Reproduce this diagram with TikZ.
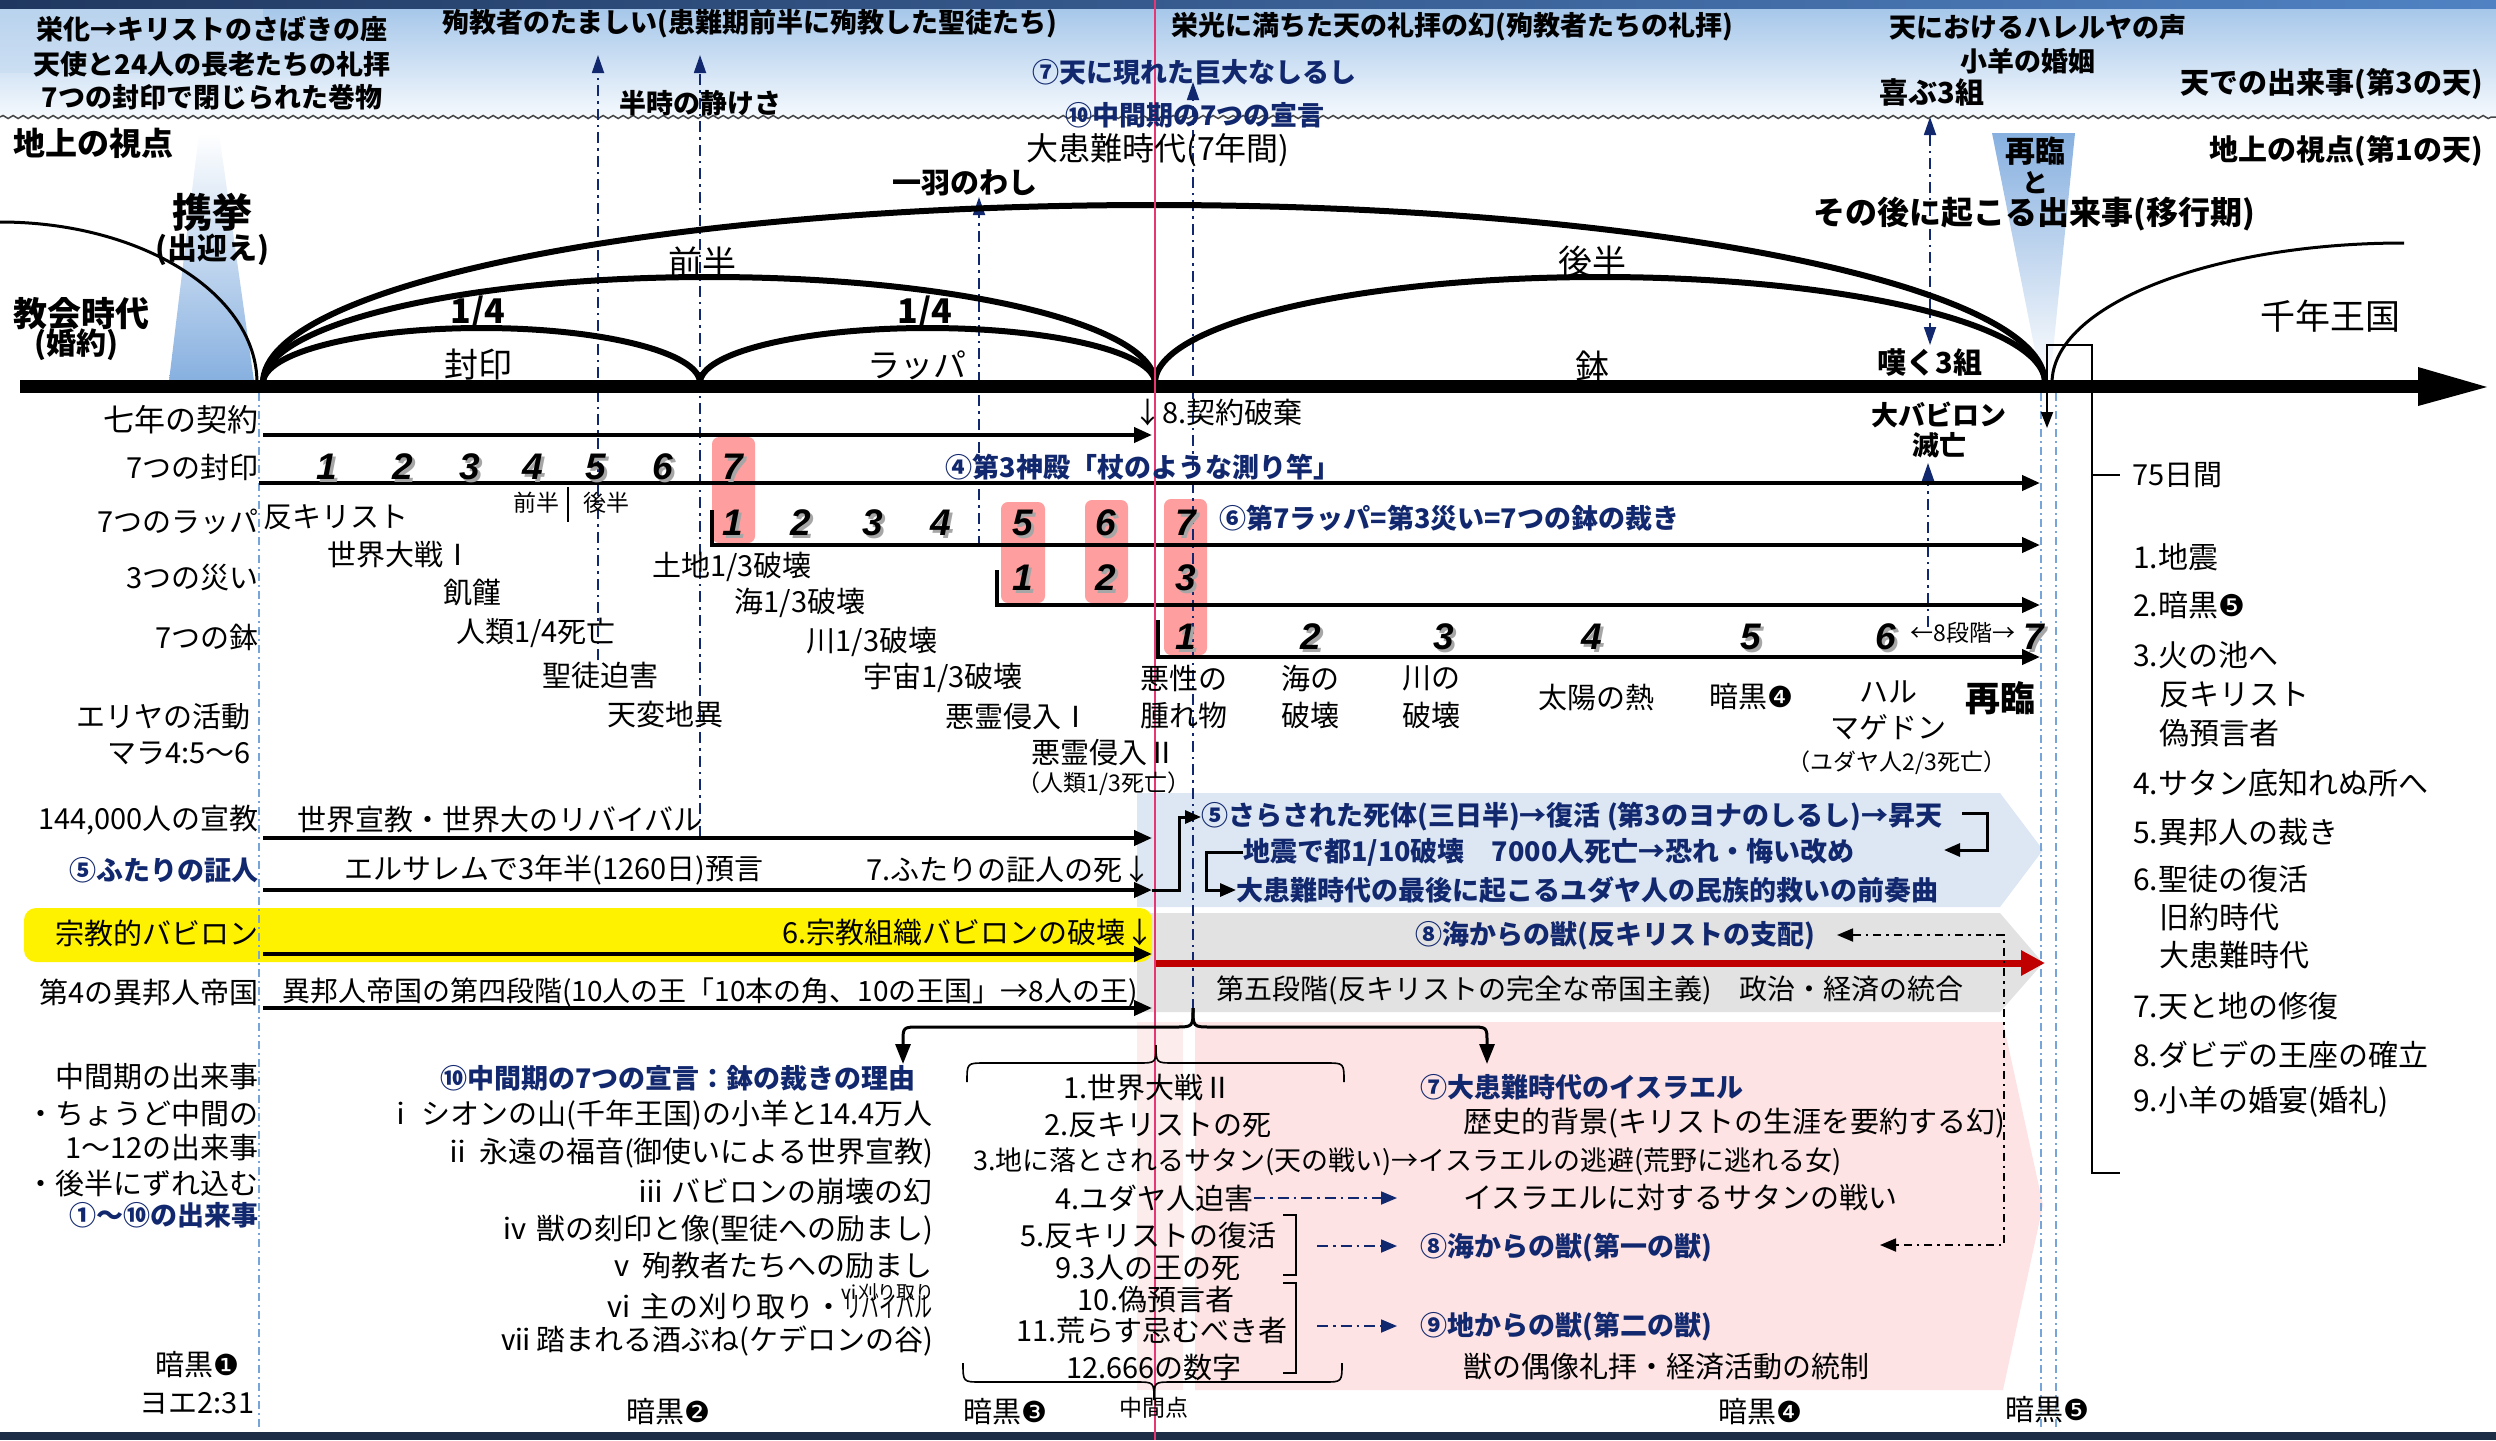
\documentclass[tikz,border=0pt]{standalone}
\usepackage{fontspec}
\setmainfont{Noto Sans CJK JP}
\newfontfamily\dejavu{DejaVu Sans}
\newfontfamily\numfont{Liberation Sans}
\usetikzlibrary{arrows.meta,decorations.pathmorphing}
\definecolor{navyT}{RGB}{18,40,110}
\definecolor{navyD}{RGB}{32,56,96}
\definecolor{navyL}{RGB}{80,130,195}
\definecolor{hdrTop}{RGB}{160,195,232}
\definecolor{hdrBot}{RGB}{246,250,254}
\definecolor{beamB}{RGB}{135,176,224}
\definecolor{pinkBox}{RGB}{255,158,158}
\definecolor{bandBlue}{RGB}{220,231,243}
\definecolor{bandGray}{RGB}{226,226,226}
\definecolor{bandPink}{RGB}{253,227,228}
\definecolor{bandPinkL}{RGB}{253,236,236}
\definecolor{redA}{RGB}{192,0,0}
\definecolor{midLine}{RGB}{228,55,115}
\definecolor{lightDash}{RGB}{120,165,215}
\definecolor{botBar}{RGB}{30,45,70}
\newcommand\dk[1]{{\dejavu #1}}
\newcommand\fs[1]{\fontsize{#1}{#1}\selectfont}
\newcommand\numat[4]{\node[numsh] (#1s) at (#2+2.5,#3+2.5) {#4};\node[numst] (#1) at (#2,#3) {#4};}
\tikzset{
  txt/.style={inner sep=0pt, font=\fontsize{29}{34}\selectfont},
  txs/.style={inner sep=0pt, font=\fontsize{23}{27}\selectfont},
  txb/.style={inner sep=0pt, font=\fontsize{27}{32}\selectfont\bfseries},
  txn/.style={txb, text=navyT},
  numst/.style={inner sep=0pt, font=\fontsize{37}{40}\selectfont\numfont\bfseries\itshape},
  numsh/.style={numst, text=black!35},
  rarr/.style={line width=4pt, -{Triangle[length=18pt,width=15pt]}},
  conn/.style={line width=3pt, -{Triangle[length=16pt,width=13pt]}},
  ddn/.style={navyT, line width=1.8pt, dash pattern=on 11pt off 5pt on 2.5pt off 5pt},
  ddk/.style={black, line width=1.8pt, dash pattern=on 8pt off 5pt on 2.5pt off 5pt},
  ddl/.style={lightDash, line width=1.2pt, dash pattern=on 8pt off 4pt on 2pt off 4pt},
  nhead/.style={-{Triangle[length=18pt,width=12pt]}},
  pbox/.style={fill=pinkBox, rounded corners=7pt, draw=none},
  archl/.style={line width=6pt},
  thinarch/.style={line width=3pt},
}
\begin{document}
\begin{tikzpicture}[x=1pt,y=-1pt]
\useasboundingbox (0,0) rectangle (2496,1440);
% ---------- backgrounds
\shade[top color=hdrTop, bottom color=hdrBot] (0,0) rectangle (2496,118);
\fill[hdrTop!60!white, opacity=0.6] (0,8) rectangle (263,73);
\shade[left color=navyD, right color=navyL] (0,0) rectangle (2496,8);
\fill[botBar] (0,1432) rectangle (2496,1440);
\draw[gray!55!black, line width=1.5pt, decorate, decoration={snake, amplitude=1.5pt, segment length=10pt}] (0,117) -- (2496,117);
\shade[top color=white, bottom color=beamB] (199,133) -- (219,133) -- (254,381) -- (169,381) -- cycle;
\shade[top color=beamB, bottom color=white] (1992,133) -- (2075,133) -- (2050,381) -- (2041,381) -- cycle;
\fill[bandBlue] (1137,793) -- (2000,793) -- (2043,850) -- (2000,907) -- (1137,907) -- cycle;
\fill[bandGray] (1137,913) -- (2000,913) -- (2043,963) -- (2000,1012) -- (1137,1012) -- cycle;
\fill[bandPink] (1195,1022) -- (2003,1022) -- (2043,1205) -- (2003,1390) -- (1195,1390) -- cycle;
\fill[bandPinkL] (1137,1022) rectangle (1183,1390);
\fill[yellow, rounded corners=12pt] (24,908) rectangle (1152,962);
\fill[pbox] (712,437) rectangle (755,543);
\fill[pbox] (1001,502) rectangle (1045,603);
\fill[pbox] (1085,500) rectangle (1128,603);
\fill[pbox] (1164,499) rectangle (1207,655);
% ---------- vertical guide lines
\draw[ddl] (259,393) -- (259,1430);
\draw[ddl] (2041,393) -- (2041,1430);
\draw[ddl] (2056,393) -- (2056,1430);
\draw[ddn, nhead] (598,660) -- (598,55);
\draw[ddn, nhead] (700,837) -- (700,55);
\draw[ddn, nhead] (979,547) -- (979,197);
\draw[ddn, nhead] (1193,1010) -- (1193,82);
\draw[ddn, {Triangle[length=18pt,width=12pt]}-{Triangle[length=18pt,width=12pt]}] (1930,117) -- (1930,345);
\draw[ddn, nhead] (1928,627) -- (1928,463);
% ---------- timeline and arches
\fill (20,380) rectangle (2425,393);
\fill (2418,367) -- (2487,387) -- (2418,406) -- cycle;
\draw[thinarch] (0,222) arc[start angle=90, end angle=0, x radius=257pt, y radius=161pt];
\draw[thinarch] (2052,383) arc[start angle=180, end angle=90, x radius=352pt, y radius=140pt];
\draw[archl] (263,383) arc[start angle=180, end angle=0, x radius=218.5pt, y radius=55pt];
\draw[archl] (700,383) arc[start angle=180, end angle=0, x radius=227.5pt, y radius=55pt];
\draw[archl] (263,383) arc[start angle=180, end angle=0, x radius=446pt, y radius=106pt];
\draw[archl] (1155,383) arc[start angle=180, end angle=0, x radius=445pt, y radius=106pt];
\draw[archl] (263,383) arc[start angle=180, end angle=0, x radius=891pt, y radius=178pt];
\draw[line width=2pt] (2047,345) rectangle (2092,383);
\draw[line width=2pt] (2092,383) -- (2092,1173) -- (2120,1173);
\draw[line width=1.5pt] (2092,475) -- (2120,475);
\draw[line width=2pt, -{Triangle[length=16pt,width=12pt]}] (2047,390) -- (2047,428);
% ---------- row arrows
\coordinate (c1a) at (263,435); \coordinate (c1b) at (1152,435);
\draw[rarr] (c1a) -- (c1b);
\coordinate (s0) at (259,483); \coordinate (s1) at (2040,483);
\draw[rarr] (s0) -- (s1);
\coordinate (t0) at (712,510); \coordinate (t1) at (2040,545);
\draw[rarr] (t0) |- (t1);
\coordinate (w0) at (997,570); \coordinate (w1) at (2040,605);
\draw[rarr] (w0) |- (w1);
\coordinate (b0) at (1158,620); \coordinate (b1e) at (2040,657);
\draw[rarr] (b0) |- (b1e);
\draw[line width=1.5pt] (568,487) -- (568,522);
\coordinate (m0) at (263,838); \coordinate (m1) at (1152,838);
\draw[rarr] (m0) -- (m1);
\coordinate (p0) at (263,890); \coordinate (p1) at (1152,890);
\draw[rarr] (p0) -- (p1);
\coordinate (y0) at (263,954); \coordinate (y1) at (1152,954);
\draw[rarr] (y0) -- (y1);
\coordinate (e0) at (263,1008); \coordinate (e1) at (1152,1008);
\draw[rarr] (e0) -- (e1);
\coordinate (r0) at (1155,963); \coordinate (r1) at (2045,963);
\draw[redA, line width=7pt, -{Triangle[length=24pt,width=24pt]}] (r0) -- (r1);
% ---------- middle magenta line
\draw[midLine, line width=2pt] (1155,0) -- (1155,1440);
% ---------- numbers
\numat{sa}{327}{467}{1}\numat{sb}{403}{467}{2}\numat{sc}{470}{467}{3}\numat{sd}{533}{467}{4}
\numat{se}{596}{467}{5}\numat{sf}{663}{467}{6}\numat{sg}{733}{467}{7}
\numat{ta}{733}{523}{1}\numat{tb}{801}{523}{2}\numat{tc}{873}{523}{3}\numat{td}{941}{523}{4}
\numat{te}{1023}{523}{5}\numat{tf}{1106}{523}{6}\numat{tg}{1186}{523}{7}
\numat{wa}{1023}{578}{1}\numat{wb}{1106}{578}{2}\numat{wc}{1186}{578}{3}
\numat{ba}{1186}{637}{1}\numat{bb}{1311}{637}{2}\numat{bc}{1444}{637}{3}\numat{bd}{1592}{637}{4}
\numat{be}{1751}{637}{5}\numat{bf}{1886}{637}{6}\numat{bg}{2034}{637}{7}
% ---------- header texts
\node[txb] (h1) at (212,29) {栄化→キリストのさばきの座};
\node[txb] (h2) at (212,64) {天使と24人の長老たちの礼拝};
\node[txb] (h3) at (212,97) {7つの封印で閉じられた巻物};
\node[txb] (h4) at (750,24) {殉教者のたましい(患難期前半に殉教した聖徒たち)};
\node[txb] (h5) at (700,103) {半時の静けさ};
\node[txb] (h6) at (1452,27) {栄光に満ちた天の礼拝の幻(殉教者たちの礼拝)};
\node[txb] (h7) at (2038,27) {天におけるハレルヤの声};
\node[txb] (h8) at (2028,61) {小羊の婚姻};
\node[txb, font=\fs{29}\bfseries] (h9) at (1932,92) {喜ぶ3組};
\node[txb, anchor=east, font=\fs{29}\bfseries] (h10) at (2483,84) {天での出来事(第3の天)};
\node[txn] (h11) at (1194,72) {⑦天に現れた巨大なしるし};
\node[txn] (h12) at (1195,115) {⑩中間期の7つの宣言};
% ---------- earth texts
\node[txb, anchor=west, font=\fs{32}\bfseries] (g1) at (13,143) {地上の視点};
\node[txb, anchor=east, font=\fs{29}\bfseries] (g2) at (2483,151) {地上の視点(第1の天)};
\node[txt, font=\fs{32}] (g3) at (1158,150) {大患難時代(7年間)};
\node[txb, font=\fs{29}\bfseries] (g4) at (965,183) {一羽のわし};
\node[txt, font=\fs{40}\bfseries] (g5) at (212,212) {携挙};
\node[txb, font=\fs{30}\bfseries] (g6) at (212,250) {(出迎え)};
\node[txb, anchor=west, font=\fs{34}\bfseries] (g7) at (13,314) {教会時代};
\node[txb, font=\fs{30}\bfseries] (g8) at (76,345) {(婚約)};
\node[txb, font=\fs{34}\bfseries] (g9) at (478,313) {1/4};
\node[txb, font=\fs{34}\bfseries] (g10) at (925,313) {1/4};
\node[txt, font=\fs{34}] (g11) at (478,365) {封印};
\node[txt, font=\fs{33}] (g12) at (917,365) {ラッパ};
\node[txt, font=\fs{34}] (g13) at (702,262) {前半};
\node[txt, font=\fs{34}] (g14) at (1592,262) {後半};
\node[txt, font=\fs{34}] (g15) at (1592,367) {鉢};
\node[txt, font=\fs{35}] (g16) at (2330,316) {千年王国};
\node[txb, font=\fs{29}\bfseries] (g17) at (1930,363) {嘆く3組};
\node[txb, font=\fs{30}\bfseries] (g18) at (2035,151) {再臨};
\node[txb, font=\fs{26}\bfseries] (g19) at (2035,183) {と};
\node[txb, font=\fs{32}\bfseries] (g20) at (2034,214) {その後に起こる出来事(移行期)};
\node[txb] (g21) at (1939,415) {大バビロン};
\node[txb] (g22) at (1939,445) {滅亡};
\node[txt, anchor=west] (g23) at (2132,475) {75日間};
\node[txn] (g24) at (1143,467) {④第3神殿「杖のような測り竿」};
\node[txn, anchor=west] (g25) at (1219,518) {⑥第7ラッパ=第3災い=7つの鉢の裁き};
\node[txt, anchor=west] (g26) at (1133,413) {↓8.契約破棄};
% ---------- row labels
\node[txt, anchor=east, font=\fs{31}] (l1) at (259,420) {七年の契約};
\node[txt, anchor=east] (l2) at (259,467) {7つの封印};
\node[txt, anchor=east] (l3) at (259,522) {7つのラッパ};
\node[txt, anchor=east] (l4) at (259,578) {3つの災い};
\node[txt, anchor=east] (l5) at (259,637) {7つの鉢};
\node[txt, anchor=east] (l6) at (251,717) {エリヤの活動};
\node[txt, anchor=east] (l7) at (251,753) {マラ4:5～6};
\node[txt, anchor=east] (l8) at (259,820) {144,000人の宣教};
\node[txn, anchor=east] (l9) at (259,870) {⑤ふたりの証人};
\node[txt, anchor=east] (l10) at (259,933) {宗教的バビロン};
\node[txt, anchor=east] (l11) at (259,992) {第4の異邦人帝国};
\node[txt, anchor=east] (l12) at (259,1077) {中間期の出来事};
\node[txt, anchor=east] (l13) at (259,1113) {・ちょうど中間の};
\node[txt, anchor=east] (l14) at (259,1148) {1～12の出来事};
\node[txt, anchor=east] (l15) at (259,1183) {・後半にずれ込む};
\node[txn, anchor=east] (l16) at (259,1215) {①～⑩の出来事};
\node[txt] (l17) at (197,1365) {暗黒\dk{❶}};
\node[txt] (l18) at (197,1403) {ヨエ2:31};
% ---------- seal / trumpet events
\node[txt, anchor=west] (q0) at (263,517) {反キリスト};
\node[txt] (q1) at (400,555) {世界大戦Ⅰ};
\node[txt] (q2) at (472,593) {飢饉};
\node[txt] (q3) at (536,633) {人類1/4死亡};
\node[txt] (q4) at (600,675) {聖徒迫害};
\node[txt] (q5) at (665,715) {天変地異};
\node[txs] (q6) at (536,503) {前半};
\node[txs] (q7) at (606,503) {後半};
\node[txt] (u1) at (732,567) {土地1/3破壊};
\node[txt] (u2) at (800,603) {海1/3破壊};
\node[txt] (u3) at (872,642) {川1/3破壊};
\node[txt] (u4) at (943,678) {宇宙1/3破壊};
\node[txt] (u5) at (1018,717) {悪霊侵入Ⅰ};
\node[txt] (u6) at (1104,753) {悪霊侵入Ⅱ};
\node[txs] (u7) at (1104,784) {（人類1/3死亡）};
% ---------- bowl events
\node[txt] (v1) at (1184,678) {悪性の};
\node[txt] (v2) at (1184,715) {腫れ物};
\node[txt] (v3) at (1310,678) {海の};
\node[txt] (v4) at (1310,715) {破壊};
\node[txt] (v5) at (1431,678) {川の};
\node[txt] (v6) at (1431,715) {破壊};
\node[txt] (v7) at (1596,697) {太陽の熱};
\node[txt] (v8) at (1751,697) {暗黒\dk{❹}};
\node[txt] (v9) at (1888,692) {ハル};
\node[txt] (v10) at (1888,727) {マゲドン};
\node[txt, font=\fs{35}\bfseries] (v11) at (2000,698) {再臨};
\node[txs] (v12) at (1897,763) {（ユダヤ人2/3死亡）};
\node[txs] (v13) at (1963,633) {←8段階→};
% ---------- left rows texts
\node[txt] (k1) at (500,820) {世界宣教・世界大のリバイバル};
\node[txt] (k2) at (554,870) {エルサレムで3年半(1260日)預言};
\node[txt, anchor=east] (k3) at (1152,870) {7.ふたりの証人の死↓};
\node[txt, anchor=east] (k4) at (1155,933) {6.宗教組織バビロンの破壊↓};
\node[txt, font=\fs{28}] (k5) at (710,992) {異邦人帝国の第四段階(10人の王「10本の角、10の王国」→8人の王)};
% ---------- blue band
\node[txn, anchor=west] (bb1) at (1201,817) {⑤さらされた死体(三日半)→復活 (第3のヨナのしるし)→昇天};
\node[txn, anchor=west] (bb2) at (1243,852) {地震で都1/10破壊　7000人死亡→恐れ・悔い改め};
\node[txn, anchor=west] (bb3) at (1236,890) {大患難時代の最後に起こるユダヤ人の民族的救いの前奏曲};
\draw[conn] (p1) -- (1179,890) |- (bb1.west);
\coordinate (bb1r) at (1962,813); \coordinate (bb2r) at (1944,850);
\draw[conn] (bb1r) -- (1987,813) -- (1987,850) -- (bb2r);
\draw[conn] (bb2.west) -- (1206,852) |- (bb3.west);
% ---------- gray band
\node[txn] (gb1) at (1615,936) {⑧海からの獣(反キリストの支配)};
\node[txt, font=\fs{28}] (gb2) at (1590,990) {第五段階(反キリストの完全な帝国主義)　政治・経済の統合};
% ---------- brace from midpoint
\draw[line width=3pt, -{Triangle[length=20pt,width=15pt]}] (1193,1008) .. controls (1193,1027) .. (1175,1027) -- (920,1027) .. controls (903,1027) .. (903,1042) -- (903,1064);
\draw[line width=3pt, -{Triangle[length=20pt,width=15pt]}] (1193,1008) .. controls (1193,1027) .. (1211,1027) -- (1470,1027) .. controls (1487,1027) .. (1487,1042) -- (1487,1064);
% ---------- middle declarations
\node[txn] (d0) at (678,1078) {⑩中間期の7つの宣言：鉢の裁きの理由};
\node[txt, anchor=east] (d1) at (933,1115) {ⅰ シオンの山(千年王国)の小羊と14.4万人};
\node[txt, anchor=east] (d2) at (933,1153) {ⅱ 永遠の福音(御使いによる世界宣教)};
\node[txt, anchor=east] (d3) at (933,1192) {ⅲ バビロンの崩壊の幻};
\node[txt, anchor=east] (d4) at (933,1230) {ⅳ 獣の刻印と像(聖徒への励まし)};
\node[txt, anchor=east] (d5) at (933,1266) {ⅴ 殉教者たちへの励まし};
\node[txt, anchor=east] (d6) at (933,1306) {ⅵ 主の刈り取り・\scalebox{0.62}[1]{リバイバル}};
\node[txs, anchor=east, font=\fs{19}] (d6b) at (935,1292) {ⅵ刈り取り};
\node[txt, anchor=east] (d7) at (933,1341) {ⅶ 踏まれる酒ぶね(ケデロンの谷)};
\node[txt] (d8) at (668,1412) {暗黒\dk{❷}};
\node[txt] (d9) at (1005,1412) {暗黒\dk{❸}};
\node[txs] (d10) at (1154,1408) {中間点};
\node[txt] (d11) at (1760,1412) {暗黒\dk{❹}};
\node[txt] (d12) at (2047,1410) {暗黒\dk{❺}};
% ---------- center list with braces
\draw[line width=1.6pt] (967,1082) .. controls (967,1063) .. (985,1063) -- (1138,1063) .. controls (1156,1063) .. (1156,1045) .. controls (1156,1063) .. (1174,1063) -- (1326,1063) .. controls (1344,1063) .. (1344,1082);
\draw[line width=1.6pt] (963,1363) .. controls (963,1382) .. (981,1382) -- (1136,1382) .. controls (1154,1382) .. (1154,1400) .. controls (1154,1382) .. (1172,1382) -- (1324,1382) .. controls (1342,1382) .. (1342,1363);
\draw[line width=1.6pt] (1283,1215) -- (1296,1215) -- (1296,1275) -- (1283,1275);
\draw[line width=1.6pt] (1283,1283) -- (1296,1283) -- (1296,1373) -- (1283,1373);
\node[txt] (c1) at (1148,1088) {1.世界大戦Ⅱ};
\node[txt] (c2) at (1158,1125) {2.反キリストの死};
\node[txt, anchor=west, font=\fs{27}] (c3) at (973,1162) {3.地に落とされるサタン(天の戦い)→イスラエルの逃避(荒野に逃れる女)};
\node[txt, anchor=east] (c4) at (1254,1198) {4.ユダヤ人迫害};
\node[txt, anchor=east] (c5) at (1277,1235) {5.反キリストの復活};
\node[txt] (c9) at (1148,1268) {9.3人の王の死};
\node[txt] (c10) at (1156,1300) {10.偽預言者};
\node[txt] (c11) at (1152,1330) {11.荒らす忌むべき者};
\node[txt] (c12) at (1154,1367) {12.666の数字};
\node[txn, anchor=west] (x1) at (1420,1087) {⑦大患難時代のイスラエル};
\node[txt, anchor=west] (x2) at (1463,1123) {歴史的背景(キリストの生涯を要約する幻)};
\node[txt, anchor=west] (x3) at (1463,1197) {イスラエルに対するサタンの戦い};
\node[txn, anchor=west] (x4) at (1420,1248) {⑧海からの獣(第一の獣)};
\node[txn, anchor=west] (x5) at (1420,1327) {⑨地からの獣(第二の獣)};
\node[txt, anchor=west] (x6) at (1463,1367) {獣の偶像礼拝・経済活動の統制};
\draw[ddn, -{Triangle[length=16pt,width=13pt]}] (c4.east) -- ++(143,0);
\coordinate (a8) at (1317,1246); \coordinate (a9) at (1317,1326);
\draw[ddn, -{Triangle[length=16pt,width=13pt]}] (a8) -- (1397,1246);
\draw[ddn, -{Triangle[length=16pt,width=13pt]}] (a9) -- (1397,1326);
\coordinate (gk1) at (1837,935); \coordinate (gk2) at (1880,1245);
\draw[ddk, {Triangle[length=16pt,width=13pt]}-{Triangle[length=16pt,width=13pt]}] (gk1) -- (2004,935) -- (2004,1245) -- (gk2);
% ---------- right list
\node[txt, anchor=west, font=\fs{30}] (z1) at (2133,557) {1.地震};
\node[txt, anchor=west, font=\fs{30}] (z2) at (2133,605) {2.暗黒\dk{❺}};
\node[txt, anchor=west, font=\fs{30}] (z3) at (2133,655) {3.火の池へ};
\node[txt, anchor=west, font=\fs{30}] (z3a) at (2159,695) {反キリスト};
\node[txt, anchor=west, font=\fs{30}] (z3b) at (2159,733) {偽預言者};
\node[txt, anchor=west, font=\fs{30}] (z4) at (2133,783) {4.サタン底知れぬ所へ};
\node[txt, anchor=west, font=\fs{30}] (z5) at (2133,832) {5.異邦人の裁き};
\node[txt, anchor=west, font=\fs{30}] (z6) at (2133,879) {6.聖徒の復活};
\node[txt, anchor=west, font=\fs{30}] (z6a) at (2159,917) {旧約時代};
\node[txt, anchor=west, font=\fs{30}] (z6b) at (2159,955) {大患難時代};
\node[txt, anchor=west, font=\fs{30}] (z7) at (2133,1006) {7.天と地の修復};
\node[txt, anchor=west, font=\fs{30}] (z8) at (2133,1055) {8.ダビデの王座の確立};
\node[txt, anchor=west, font=\fs{30}] (z9) at (2133,1102) {9.小羊の婚宴(婚礼)};
\end{tikzpicture}
\end{document}
